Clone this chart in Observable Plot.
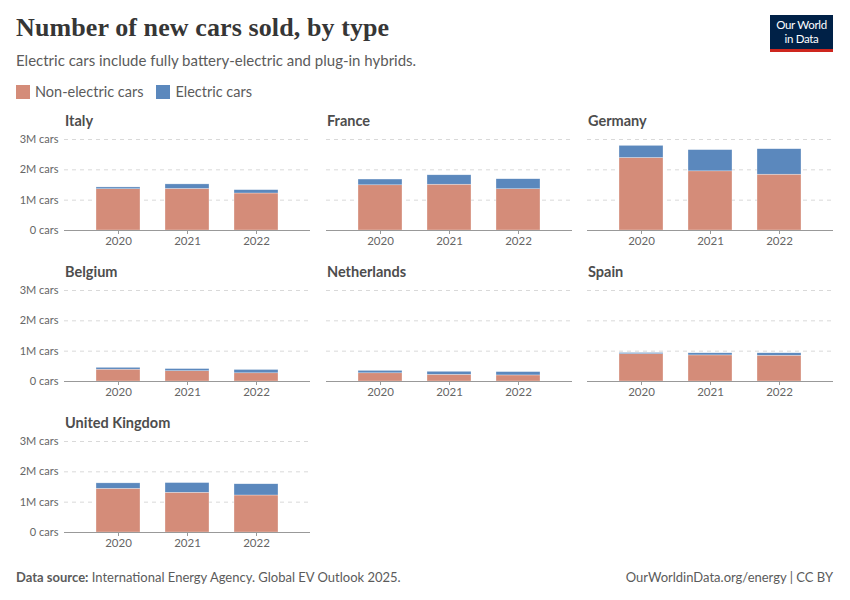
<!DOCTYPE html>
<html>
<head>
<meta charset="utf-8">
<script src="https://cdn.jsdelivr.net/npm/d3@7"></script>
<script src="https://cdn.jsdelivr.net/npm/@observablehq/plot@0.6"></script>
<style>
  html, body { margin: 0; padding: 0; background: #fff; }
  body { width: 850px; height: 600px; position: relative; font-family: Lato, "Noto Sans", sans-serif; overflow: hidden; }
  .abs { position: absolute; }
  #title { left: 16px; top: 13px; font-family: "Liberation Serif", "DejaVu Serif", serif; font-weight: 700; font-size: 26px; color: #363636; letter-spacing: 0.1px; }
  #subtitle { left: 16px; top: 51px; font-size: 15px; color: #5b5b5b; }
  #legend { left: 16px; top: 83px; font-size: 14.5px; color: #5b5b5b; display: flex; align-items: center; }
  .sw { display: inline-block; width: 14px; height: 14px; margin-right: 5px; }
  .li { display: flex; align-items: center; margin-right: 13px; }
  #logo { left: 770px; top: 15px; width: 63px; height: 34px; background: #002147; border-bottom: 3px solid #ce261e; color: #fff; font-size: 11.5px; text-align: center; letter-spacing: -0.3px; }
  #logo div { position: absolute; left: 0; width: 63px; line-height: 12px; }
  .ptitle { font-size: 14.5px; font-weight: 700; color: #4d4d4d; }
  #source { left: 16px; top: 569px; font-size: 13px; color: #5b5b5b; }
  #credit { right: 17px; top: 569px; font-size: 13px; color: #5b5b5b; }
</style>
</head>
<body>
<div id="title" class="abs">Number of new cars sold, by type</div>
<div id="subtitle" class="abs">Electric cars include fully battery-electric and plug-in hybrids.</div>
<div id="legend" class="abs"></div>
<div id="logo" class="abs"><div style="top:4px">Our World</div><div style="top:18px">in Data</div></div>
<div id="source" class="abs"><b>Data source:</b> International Energy Agency. Global EV Outlook 2025.</div>
<div id="credit" class="abs">OurWorldinData.org/energy | CC BY</div>
<script>
// ---- data (millions of cars) ----
const countries = ["Italy", "France", "Germany", "Belgium", "Netherlands", "Spain", "United Kingdom"];
const years = ["2020", "2021", "2022"];
const nonElectric = [
  [1.36, 1.37, 1.22],  // Italy
  [1.49, 1.51, 1.36],  // France
  [2.39, 1.95, 1.84],  // Germany
  [0.39, 0.34, 0.27],  // Belgium
  [0.27, 0.22, 0.20],  // Netherlands
  [0.90, 0.86, 0.85],  // Spain
  [1.44, 1.31, 1.22]   // United Kingdom
];
const electric = [
  [0.06, 0.15, 0.11],
  [0.19, 0.31, 0.33],
  [0.40, 0.70, 0.84],
  [0.06, 0.07, 0.11],
  [0.08, 0.10, 0.11],
  [0.04, 0.07, 0.08],
  [0.18, 0.32, 0.37]
];
const seriesNames = ["Non-electric cars", "Electric cars"];
const seriesColors = ["#d48c79", "#5b88bd"];
const yTicks = [0, 1, 2, 3];

// legend
const legend = document.getElementById("legend");
seriesNames.forEach((n, i) => {
  const d = document.createElement("div");
  d.className = "li";
  d.innerHTML = `<span class="sw" style="background:${seriesColors[i]}"></span>${n}`;
  legend.appendChild(d);
});

const colLeft = [16, 326, 587];
const rowZero = [230, 381, 532];
const plotW = 246, plotH = 91, leftMargin = 48;

countries.forEach((c, ci) => {
  const col = ci % 3, row = Math.floor(ci / 3);
  const isLeft = col === 0;
  const data = [];
  years.forEach((y, yi) => {
    data.push({year: y, type: seriesNames[0], value: nonElectric[ci][yi] * 1e6});
    data.push({year: y, type: seriesNames[1], value: electric[ci][yi] * 1e6});
  });
  const mt = 6, mb = 20;
  const ml = isLeft ? leftMargin : 0;
  const chart = Plot.plot({
    width: plotW + ml,
    height: plotH + mt + mb,
    marginLeft: ml, marginRight: 0, marginTop: mt, marginBottom: mb,
    style: {fontFamily: "Lato, sans-serif", fontSize: "11px", color: "#666", background: "transparent", overflow: "visible"},
    x: {type: "band", domain: years, paddingInner: 0.36, paddingOuter: 0.44, label: null, axis: null},
    y: {domain: [0, 3e6], label: null, axis: null},
    color: {domain: seriesNames, range: seriesColors},
    marks: [
      Plot.gridY(yTicks.slice(1).map(t => t * 1e6), {stroke: "#d9d9d9", strokeOpacity: 1, strokeDasharray: "4,4"}),
      Plot.barY(data, {x: "year", y: "value", fill: "type", stroke: "#fff", strokeOpacity: 0.6, strokeWidth: 0.5}),
      Plot.ruleY([0], {stroke: "#999"}),
      Plot.axisX({tickSize: 4, tickPadding: 2, stroke: "#999", fill: "#666", fontSize: 11.5}),
      isLeft ? Plot.axisY(yTicks.map(t => t * 1e6), {tickSize: 0, tickPadding: 6, fill: "#666", fontSize: 11,
        tickFormat: d => d === 0 ? "0 cars" : `${d / 1e6}M cars`}) : null
    ]
  });
  chart.classList.add("abs");
  chart.style.left = colLeft[col] + "px";
  chart.style.top = (rowZero[row] - plotH - mt) + "px";
  document.body.appendChild(chart);

  const t = document.createElement("div");
  t.className = "abs ptitle";
  t.textContent = c;
  t.style.left = (colLeft[col] + ml + 1) + "px";
  t.style.top = (rowZero[row] - 118) + "px";
  document.body.appendChild(t);
});
</script>
</body>
</html>
